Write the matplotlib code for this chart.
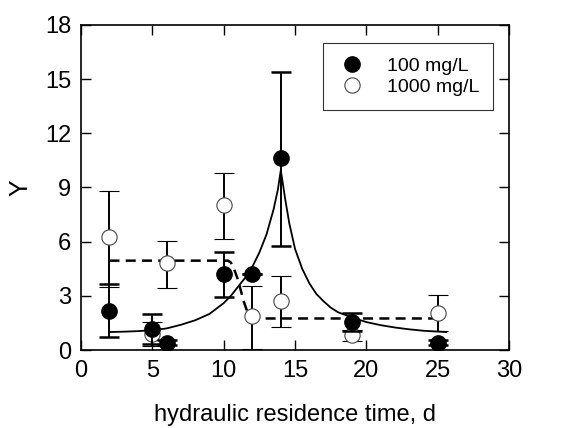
import matplotlib
matplotlib.use("Agg")
import matplotlib.pyplot as plt
import numpy as np

plt.rcParams['font.family'] = ['Liberation Sans', 'DejaVu Sans']

# measured points
hrt = [2, 5, 6, 10, 12, 14, 19, 25]

y_100 = [2.15, 1.16, 0.42, 4.2, 4.2, 10.62, 1.56, 0.42]
lo_100 = [0.70, 0.33, 0.30, 2.94, 4.2, 5.78, 1.05, 0.30]
hi_100 = [3.64, 1.99, 0.55, 5.43, 4.2, 15.37, 2.08, 0.55]

y_1000 = [6.26, 0.90, 4.80, 8.02, 1.88, 2.70, 0.83, 2.08]
lo_1000 = [3.50, 0.25, 3.42, 6.17, 0.05, 1.27, 0.48, 1.05]
hi_1000 = [8.78, 1.56, 6.05, 9.81, 3.53, 4.12, 1.10, 3.07]

# fitted curves
fit100_x = [2, 3, 4, 5, 6, 7, 8, 9, 10, 10.5, 11, 11.5, 12, 12.5, 13, 13.5, 13.8, 14.0,
            14.15, 14.3, 14.6, 15, 15.5, 16, 16.5, 17, 17.5, 18, 19, 20, 21, 22, 23, 24, 25.6]
fit100_y = [1.0, 1.02, 1.05, 1.1, 1.2, 1.4, 1.65, 2.0, 2.6, 3.0, 3.5, 4.0, 4.6, 5.4, 6.4, 7.8, 8.9, 9.95,
            9.2, 8.4, 7.0, 5.6, 4.5, 3.7, 3.1, 2.7, 2.35, 2.1, 1.8, 1.55, 1.38, 1.25, 1.15, 1.07, 1.0]

fit1000_x = [2, 10.3, 10.5, 10.7, 11.0, 11.2, 11.4, 11.6, 11.8, 12.07, 12.4, 24.8]
fit1000_y = [4.95, 4.95, 4.85, 4.55, 3.9, 3.3, 2.7, 2.25, 1.95, 1.78, 1.75, 1.75]

fig = plt.figure(figsize=(5.62, 4.28), dpi=100)
ax = fig.add_axes([0.144, 0.182, 0.762, 0.760])

ax.plot(fit100_x, fit100_y, color='black', lw=1.3)
ax.plot(fit1000_x, fit1000_y, color='black', lw=1.8, ls=(0, (4, 2.5)))

yerr100 = [np.subtract(y_100, lo_100), np.subtract(hi_100, y_100)]
yerr1000 = [np.subtract(y_1000, lo_1000), np.subtract(hi_1000, y_1000)]

ax.errorbar(hrt, y_1000, yerr=yerr1000, fmt='o', ms=11, mfc='white', mec='#444444',
            mew=0.8, ecolor='black', elinewidth=1.4, capsize=7.5, capthick=1.8,
            label='1000 mg/L', zorder=3)
ax.errorbar(hrt, y_100, yerr=yerr100, fmt='o', ms=11, mfc='black', mec='black',
            ecolor='black', elinewidth=1.4, capsize=7.5, capthick=1.8,
            label='100 mg/L', zorder=4)

ax.set_xlim(0, 30)
ax.set_ylim(0, 18)
ax.set_xticks(range(0, 31, 5))
ax.set_yticks(range(0, 19, 3))
ax.tick_params(direction='in', length=7, width=1, top=True, right=True,
               labelsize=17, pad=7)
for s in ax.spines.values():
    s.set_linewidth(1.2)

ax.set_xlabel('hydraulic residence time, d', fontsize=17, labelpad=16)
ax.set_ylabel('Y', fontsize=18, labelpad=9)

h, l = ax.get_legend_handles_labels()
h = [hh[0] for hh in h]
leg = ax.legend(h[::-1], l[::-1], loc='upper right', bbox_to_anchor=(0.963, 0.943),
                fontsize=14, frameon=True, fancybox=False, borderpad=0.7,
                handletextpad=1.0, labelspacing=0.2, handlelength=1.6,
                borderaxespad=0)
leg.get_frame().set_edgecolor('black')
leg.get_frame().set_linewidth(0.8)

fig.savefig('out.png', dpi=100)
